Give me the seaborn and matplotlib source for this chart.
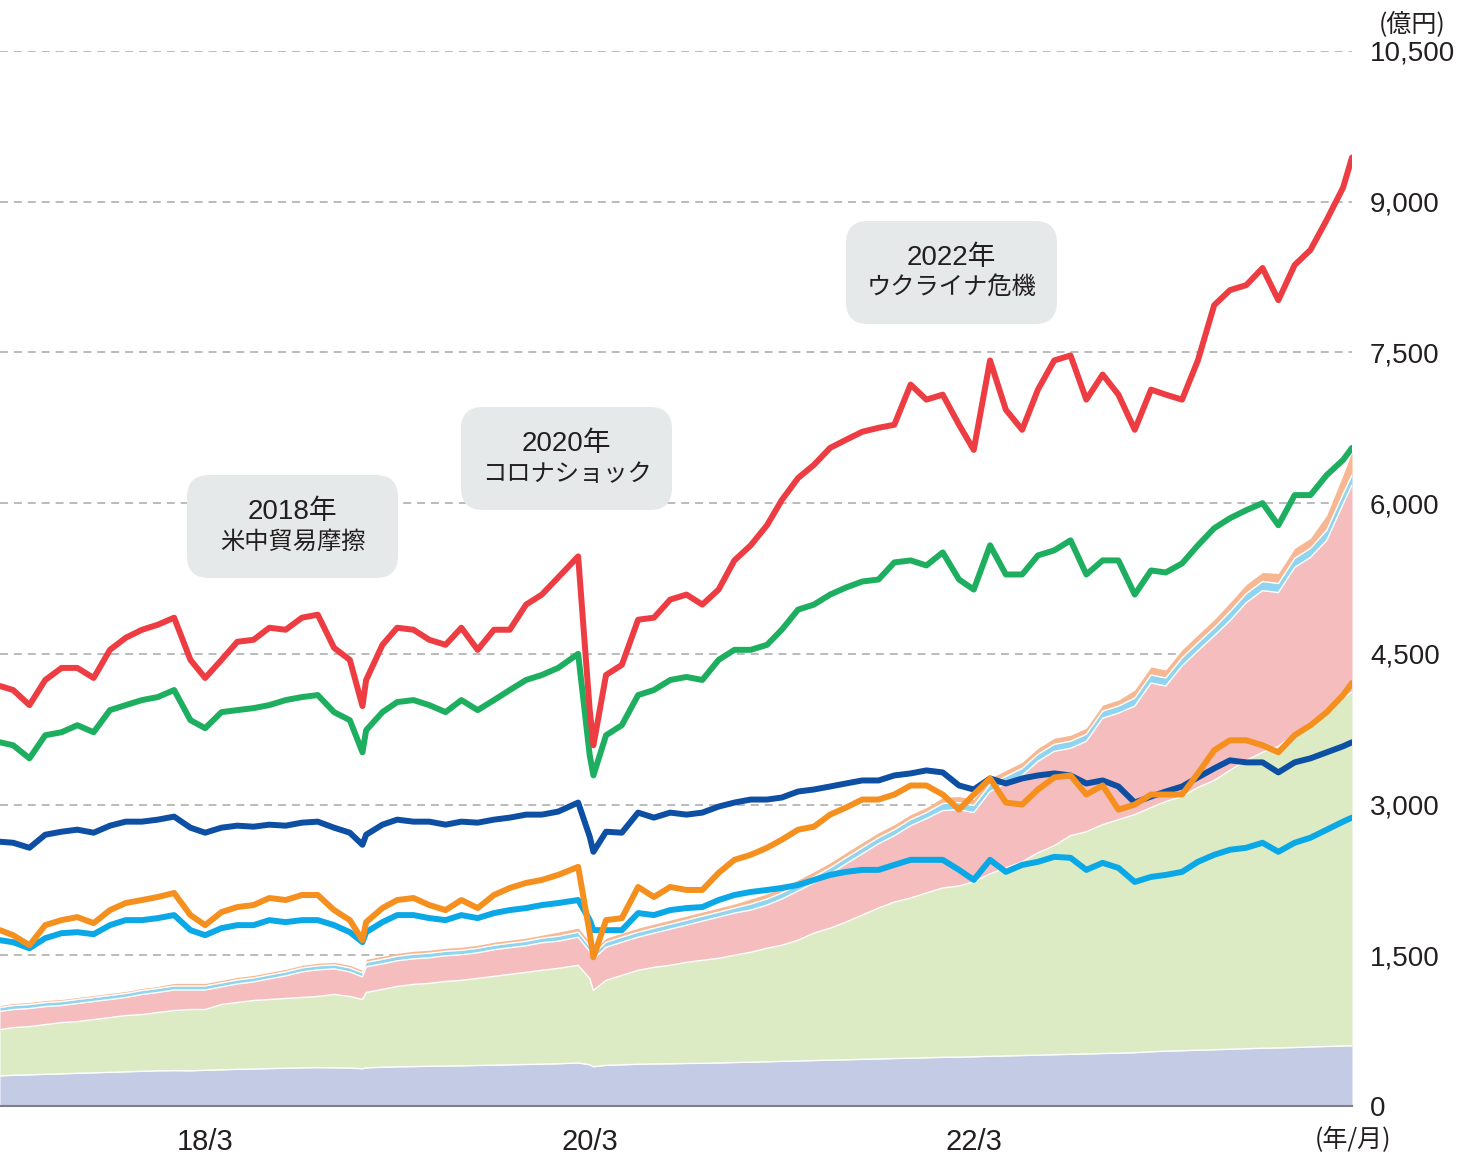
import numpy as np
import pandas as pd
import matplotlib
matplotlib.use("Agg")
import matplotlib.pyplot as plt
from matplotlib.patches import FancyBboxPatch
from matplotlib.transforms import IdentityTransform
import seaborn as sns


def months(a, b):
    return [d.strftime("%Y-%m-%d") for d in pd.date_range(a, b, freq="MS")]


# ---------------- data (億円) ----------------
dates = (["2017-02-04"] + months("2017-03-01", "2018-12-01") + ["2018-12-25"]
         + months("2019-01-01", "2020-01-01") + ["2020-02-08", "2020-03-01", "2020-03-08"]
         + months("2020-04-01", "2024-02-01") + ["2024-02-18"])

red_line = [4180, 4140, 3990, 4240, 4360, 4360, 4260, 4540, 4660, 4740, 4790,
            4860, 4440, 4260, 4440, 4620, 4640, 4760, 4740, 4860, 4890, 4560, 4440, 3980,
            4240, 4590, 4760, 4740, 4640, 4590, 4760, 4540, 4740, 4740, 4990, 5090,
            5260, 5470, 3940, 3590, 4290, 4390, 4840, 4860, 5040, 5090, 4990, 5140, 5430,
            5580, 5780, 6030, 6250, 6380, 6550, 6630, 6710, 6750, 6780, 7180, 7030,
            7080, 6780, 6530, 7420, 6930, 6730, 7130, 7420, 7470, 7030, 7280, 7080,
            6730, 7130, 7080, 7030, 7420, 7970, 8120, 8170, 8340, 8020, 8370, 8520,
            8820, 9140, 9440]

green_line = [3620, 3590, 3460, 3690, 3720, 3790, 3720, 3940, 3990, 4040, 4070,
              4140, 3840, 3760, 3920, 3940, 3960, 3990, 4040, 4070, 4090, 3920, 3840, 3520,
              3740, 3920, 4020, 4040, 3990, 3920, 4040, 3940, 4040, 4140, 4240, 4290,
              4360, 4500, 3490, 3290, 3690, 3790, 4090, 4140, 4240, 4270, 4240, 4440, 4540,
              4540, 4590, 4740, 4940, 4990, 5090, 5160, 5220, 5240, 5410, 5430, 5380,
              5510, 5240, 5140, 5580, 5290, 5290, 5480, 5530, 5630, 5290, 5430, 5430,
              5090, 5330, 5310, 5400, 5580, 5750, 5850, 5930, 6000, 5780, 6080, 6080,
              6280, 6430, 6550]

navy_line = [2630, 2620, 2570, 2700, 2730, 2750, 2720, 2790, 2830, 2830, 2850,
             2880, 2770, 2720, 2770, 2790, 2780, 2800, 2790, 2820, 2830, 2770, 2720, 2600,
             2700, 2800, 2850, 2830, 2830, 2800, 2830, 2820, 2850, 2870, 2900, 2900,
             2930, 3020, 2680, 2530, 2730, 2720, 2920, 2870, 2920, 2900, 2920, 2980, 3020,
             3050, 3050, 3070, 3130, 3150, 3180, 3210, 3240, 3240, 3290, 3310, 3340,
             3320, 3190, 3150, 3260, 3210, 3260, 3290, 3310, 3290, 3210, 3240, 3180,
             3020, 3080, 3130, 3180, 3270, 3360, 3440, 3420, 3420, 3320, 3420, 3460,
             3520, 3580, 3620]

orange_line = [1750, 1700, 1600, 1800, 1850, 1880, 1820, 1950, 2020, 2050, 2080,
               2120, 1900, 1800, 1930, 1980, 2000, 2070, 2050, 2100, 2100, 1950, 1850, 1650,
               1830, 1970, 2050, 2070, 2000, 1950, 2050, 1970, 2100, 2170, 2220, 2250,
               2300, 2380, 1720, 1480, 1850, 1870, 2180, 2080, 2180, 2150, 2150, 2320, 2450,
               2500, 2570, 2650, 2750, 2780, 2900, 2970, 3050, 3050, 3100, 3190, 3190,
               3100, 2950, 3100, 3260, 3020, 3000, 3150, 3270, 3290, 3100, 3190, 2950,
               3000, 3100, 3100, 3100, 3310, 3540, 3640, 3640, 3590, 3520, 3690, 3790,
               3920, 4090, 4210]

cyan_line = [1650, 1630, 1570, 1670, 1720, 1730, 1710, 1800, 1850, 1850, 1870,
             1900, 1750, 1700, 1770, 1800, 1800, 1850, 1830, 1850, 1850, 1800, 1730, 1630,
             1730, 1830, 1900, 1900, 1870, 1850, 1900, 1870, 1920, 1950, 1970, 2000,
             2020, 2050, 1850, 1750, 1750, 1750, 1920, 1900, 1950, 1970, 1980, 2050, 2100,
             2130, 2150, 2170, 2200, 2250, 2300, 2330, 2350, 2350, 2400, 2450, 2450,
             2450, 2350, 2250, 2450, 2330, 2400, 2430, 2480, 2470, 2350, 2420, 2370,
             2230, 2280, 2300, 2330, 2430, 2500, 2550, 2570, 2620, 2530, 2620, 2670,
             2750, 2830, 2870]

# stacked area tops
base_top = [300, 305, 310, 315, 320, 325, 330, 335, 340, 345, 350,
            352, 350, 355, 360, 365, 368, 372, 375, 380, 382, 380, 378, 370,
            380, 385, 390, 392, 395, 398, 400, 403, 406, 410, 413, 416,
            420, 428, 410, 390, 405, 410, 415, 418, 420, 423, 425, 428, 432,
            436, 440, 444, 448, 452, 456, 460, 464, 468, 472, 476, 480,
            484, 486, 490, 494, 498, 502, 506, 510, 514, 518, 522, 526,
            530, 540, 545, 550, 555, 560, 565, 570, 575, 578, 582, 588,
            592, 598, 600]

green_top = [760, 780, 790, 810, 830, 840, 860, 880, 900, 910, 930,
             950, 960, 960, 1010, 1030, 1050, 1060, 1070, 1080, 1090, 1110, 1090, 1060,
             1130, 1160, 1190, 1210, 1220, 1240, 1250, 1270, 1290, 1310, 1330, 1350,
             1370, 1400, 1270, 1150, 1250, 1300, 1350, 1380, 1400, 1430, 1450, 1470, 1500,
             1530, 1570, 1600, 1650, 1720, 1770, 1830, 1900, 1970, 2030, 2070, 2120,
             2170, 2190, 2230, 2310, 2370, 2430, 2520, 2590, 2690, 2730, 2800, 2850,
             2900, 2970, 3030, 3080, 3170, 3240, 3340, 3440, 3520, 3580, 3700, 3820,
             3940, 4060, 4120]

pink_top = [940, 960, 970, 990, 1000, 1020, 1040, 1060, 1080, 1110, 1130,
            1155, 1155, 1155, 1185, 1215, 1235, 1265, 1295, 1335, 1355, 1365, 1335, 1285,
            1385, 1415, 1445, 1465, 1475, 1495, 1505, 1525, 1555, 1575, 1595, 1625,
            1640, 1680, 1540, 1460, 1580, 1630, 1680, 1720, 1760, 1800, 1840, 1880, 1920,
            1950, 2000, 2060, 2140, 2220, 2310, 2410, 2510, 2610, 2690, 2790, 2860,
            2940, 2950, 2920, 3130, 3210, 3290, 3430, 3530, 3560, 3630, 3860, 3910,
            3980, 4210, 4180, 4380, 4530, 4680, 4830, 5010, 5130, 5110, 5360, 5460,
            5630, 5990, 6180]

skyband_top = [980, 1000, 1010, 1030, 1040, 1060, 1080, 1100, 1120, 1150, 1170,
               1195, 1195, 1195, 1225, 1255, 1275, 1305, 1335, 1375, 1395, 1405, 1375, 1325,
               1430, 1460, 1490, 1510, 1520, 1540, 1550, 1570, 1600, 1620, 1640, 1670,
               1690, 1730, 1590, 1510, 1630, 1680, 1730, 1770, 1810, 1850, 1890, 1930, 1970,
               2010, 2060, 2120, 2200, 2280, 2370, 2470, 2570, 2670, 2750, 2850, 2920,
               3010, 3020, 2990, 3200, 3280, 3360, 3500, 3600, 3630, 3700, 3930, 3980,
               4060, 4290, 4260, 4460, 4610, 4760, 4920, 5100, 5220, 5200, 5450, 5550,
               5730, 6090, 6280]

peach_top = [1000, 1020, 1030, 1050, 1060, 1080, 1100, 1120, 1140, 1170, 1190,
             1220, 1220, 1220, 1250, 1280, 1300, 1330, 1360, 1400, 1420, 1430, 1400, 1350,
             1460, 1490, 1520, 1540, 1550, 1570, 1580, 1600, 1630, 1650, 1670, 1700,
             1730, 1770, 1630, 1550, 1670, 1720, 1770, 1810, 1850, 1890, 1930, 1970, 2010,
             2060, 2110, 2170, 2250, 2330, 2420, 2520, 2620, 2720, 2800, 2900, 2970,
             3070, 3080, 3050, 3260, 3340, 3420, 3560, 3660, 3690, 3760, 3990, 4040,
             4140, 4370, 4340, 4540, 4690, 4840, 5010, 5190, 5310, 5300, 5550, 5650,
             5880, 6280, 6510]

y_ticks = [0, 1500, 3000, 4500, 6000, 7500, 9000, 10500]
x_tick_dates = ["2018-03-01", "2020-03-01", "2022-03-01"]
x_tick_labels = ["18/3", "20/3", "22/3"]

events = [("2018年", "米中貿易摩擦"), ("2020年", "コロナショック"), ("2022年", "ウクライナ危機")]

# ---------------- style ----------------
sns.set_theme(style="white")
plt.rcParams["font.family"] = ["Liberation Sans", "Noto Sans CJK JP", "DejaVu Sans"]
CJK = ["Noto Sans CJK JP", "DejaVu Sans"]
MIX = ["Liberation Sans", "Noto Sans CJK JP", "DejaVu Sans"]
TXT = "#231f20"

W, H = 1472, 1156
fig = plt.figure(figsize=(W / 100, H / 100), dpi=100)
ax = fig.add_axes([0, 50 / H, 1352 / W, 1055 / H])

x = pd.to_datetime(dates)
zeros = np.zeros(len(x))

area_cols = ["#c3cbe5", "#dcebc4", "#f6bdbe", "#8fd4f1", "#f7b792"]
tops = [zeros, base_top, green_top, pink_top, skyband_top, peach_top]
for i, c in enumerate(area_cols):
    ax.fill_between(x, tops[i], tops[i + 1], color=c, lw=0, zorder=1)
for t in [base_top, green_top, pink_top, skyband_top]:
    ax.plot(x, t, color="white", lw=1.0, zorder=1.5)

lines = [(cyan_line, "#0aa8e6"), (navy_line, "#0d4fa2"), (orange_line, "#f5901f"),
         (green_line, "#1daf5f"), (red_line, "#ee3d42")]
for vals, col in lines:
    sns.lineplot(x=x, y=vals, color=col, lw=4.3, ax=ax, zorder=3,
                 solid_capstyle="round", solid_joinstyle="round")

ax.set_xlim(x[0], x[-1])
ax.set_ylim(0, 10500)
ax.set_yticks(y_ticks)
ax.set_yticklabels([f"{v:,}" for v in y_ticks])
ax.yaxis.tick_right()
ax.tick_params(axis="y", length=0, pad=13, labelsize=20, labelcolor=TXT)
ax.set_xticks(pd.to_datetime(x_tick_dates))
ax.set_xticklabels(x_tick_labels)
ax.tick_params(axis="x", direction="in", length=7, width=1.2, color="#808080",
               pad=16, labelsize=21, labelcolor=TXT)
ax.set_xlabel("")
ax.set_ylabel("")
ax.set_axisbelow(True)
ax.yaxis.grid(True, color="#a8a8a8", lw=1.1, linestyle=(0, (5.2, 3.9)))
ax.xaxis.grid(False)
for s in ["top", "left", "right"]:
    ax.spines[s].set_visible(False)
ax.spines["bottom"].set_color("#808080")
ax.spines["bottom"].set_linewidth(1.5)
ax.spines["bottom"].set_zorder(4)

fig.text(1412 / W, 1 - 25 / H, "(億円)", ha="center", va="center", fontsize=18,
         color=TXT, family=CJK)
fig.text(1353 / W, 1 - 1140 / H, "(年/月)", ha="center", va="center", fontsize=18,
         color=TXT, family=CJK)

# annotation boxes (pixel layout: left, top, width, height)
boxes = [(187, 475, 211, 103), (461, 407, 211, 103), (846, 221, 211, 103)]
for (bx, by, bw, bh), (l1, l2) in zip(boxes, events):
    patch = FancyBboxPatch((bx, H - by - bh), bw, bh,
                           boxstyle="round,pad=0,rounding_size=22",
                           transform=IdentityTransform(), facecolor="#e6e9e9",
                           edgecolor="none", zorder=5)
    fig.patches.append(patch)
    cx = (bx + bw / 2) / W
    fig.text(cx, 1 - (by + 37) / H, l1, ha="center", va="center", fontsize=20,
             color=TXT, family=MIX, zorder=6)
    fig.text(cx, 1 - (by + 67) / H, l2, ha="center", va="center", fontsize=17.5,
             color=TXT, family=CJK, zorder=6)

fig.savefig("out.png", dpi=100)
